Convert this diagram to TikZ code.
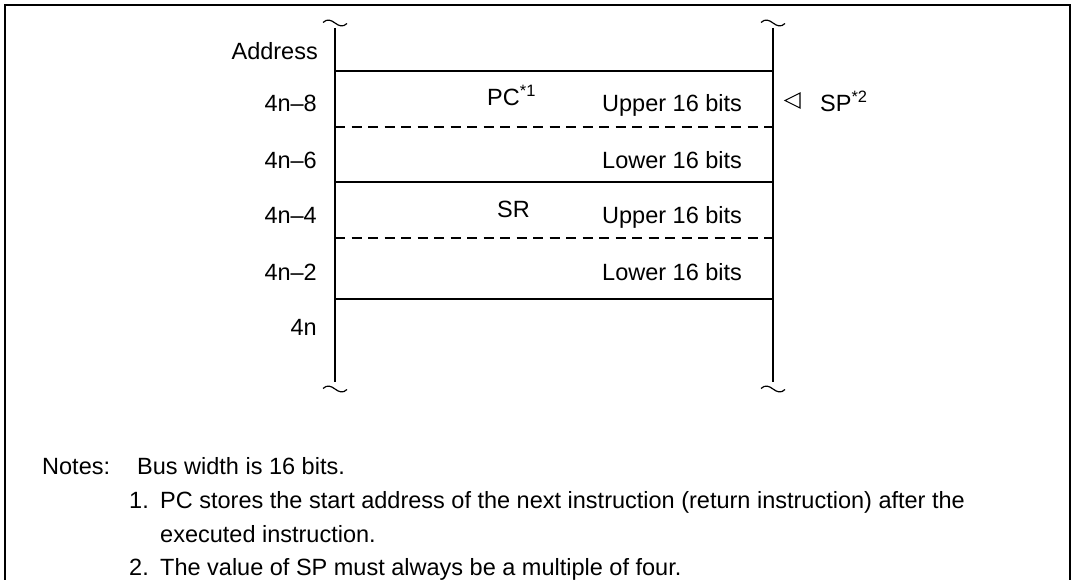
\documentclass[tikz,border=0pt]{standalone}
\usepackage{fontspec}
\setmainfont{Liberation Sans}
\begin{document}
\begin{tikzpicture}[x=1pt,y=-1pt,
  txt/.style={inner sep=0pt,font=\fontsize{23.5}{28}\selectfont},
  lbl/.style={txt,anchor=base east},
  cell/.style={txt,anchor=base west},
  solidrule/.style={line width=1.3pt},
  dashrule/.style={line width=1.3pt,dash pattern=on 10pt off 6.5pt},
  frame/.style={line width=2.2pt},
  wave/.style={line width=1.2pt}]
\useasboundingbox (0,0) rectangle (1075,580);
% frame (open at bottom)
\draw[frame] (5,585) -- (5,5) -- (1070,5) -- (1070,585);
% coordinates of the stack
\coordinate (lt) at (335,28);
\coordinate (lb) at (335,382);
\coordinate (rt) at (773,28);
\coordinate (rb) at (773,382);
\coordinate (wlt) at (335,23);
\coordinate (wlb) at (335,389);
\coordinate (wrt) at (773,23);
\coordinate (wrb) at (773,389);
\draw[solidrule] (lt) -- (lb);
\draw[solidrule] (rt) -- (rb);
% break marks
\foreach \c in {wlt,wlb,wrt,wrb}{
  \draw[wave] ([xshift=-12pt,yshift=0.5pt]\c) .. controls +(4,-4) and +(-4,-3) .. (\c)
    .. controls +(4,3) and +(-4,4) .. ([xshift=12pt,yshift=-0.5pt]\c);
}
% rows
\draw[solidrule] (335,71) -- (773,71);
\draw[dashrule] (335,127) -- (773,127);
\draw[solidrule] (335,182) -- (773,182);
\draw[dashrule] (335,238) -- (773,238);
\draw[solidrule] (335,299) -- (773,299);
% address labels
\node[lbl] (addr) at (318,60) {Address};
\node[lbl] (a1) at (317,112) {4n–8};
\node[lbl] (a2) at (317,168) {4n–6};
\node[lbl] (a3) at (317,223) {4n–4};
\node[lbl] (a4) at (317,280) {4n–2};
\node[lbl] (a5) at (317,335) {4n};
% cell contents
\node[cell] (pc) at (487,106) {PC\textsuperscript{*1}};
\node[cell] (u1) at (602,112) {Upper 16 bits};
\node[cell] (l1) at (602,168) {Lower 16 bits};
\node[cell] (sr) at (497,217) {SR};
\node[cell] (u2) at (602,223) {Upper 16 bits};
\node[cell] (l2) at (602,280) {Lower 16 bits};
% SP pointer
\draw[line width=1.1pt,line join=miter] (800,93) -- (785,100.5) -- (800,108) -- cycle;
\node[cell] (sp) at (820,112) {SP\textsuperscript{*2}};
% notes
\node[cell] (n0) at (42,474) {Notes:};
\node[cell] (n0b) at (137,474) {Bus width is 16 bits.};
\node[cell] (n1) at (129,508) {1.};
\node[cell] (n1t) at (160,508) {PC stores the start address of the next instruction (return instruction) after the};
\node[cell] (n1u) at (160,542) {executed instruction.};
\node[cell] (n2) at (129,575) {2.};
\node[cell] (n2t) at (160,575) {The value of SP must always be a multiple of four.};
\end{tikzpicture}
\end{document}
